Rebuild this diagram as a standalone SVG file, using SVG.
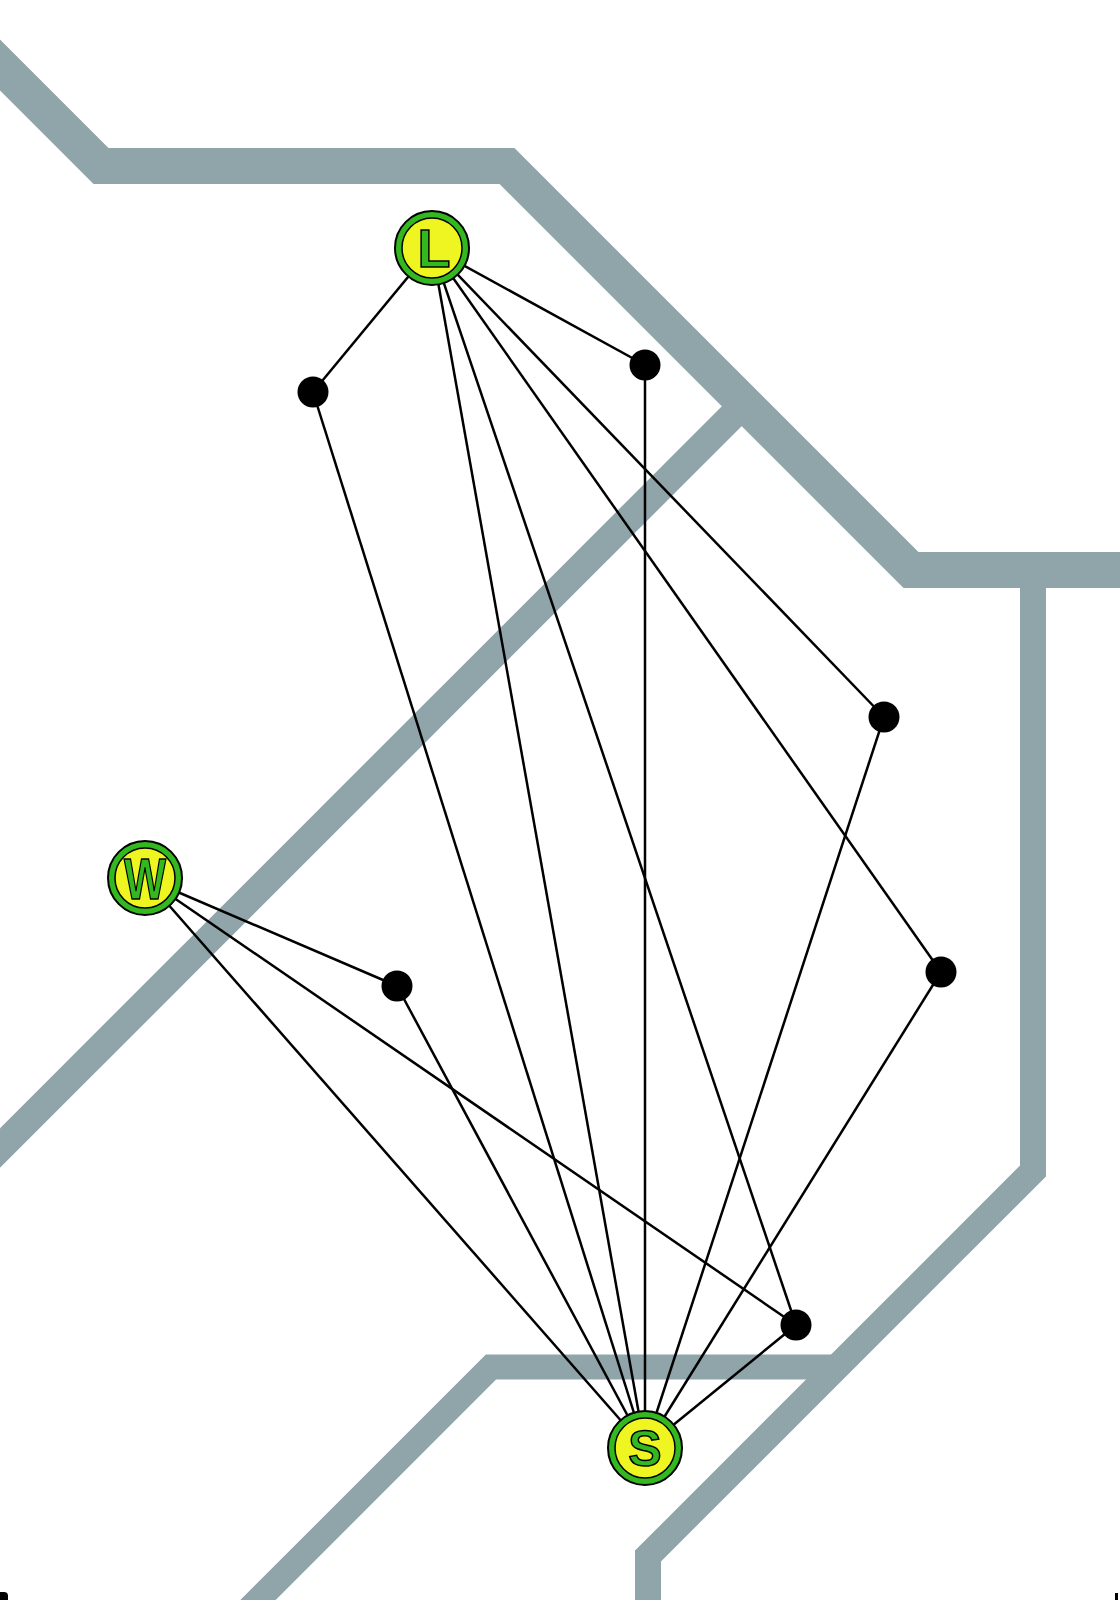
<svg xmlns="http://www.w3.org/2000/svg" width="1120" height="1600" viewBox="0 0 1120 1600">
<style>
.road{fill:none;stroke:#90a5aa;stroke-linejoin:miter;stroke-linecap:butt}
.edge{stroke:#000;stroke-width:2.5;fill:none}
.ring{fill:#33b81f;stroke:#000;stroke-width:2}
.core{fill:#eef520;stroke:#000;stroke-width:1.5}
.lbl{font-family:"Liberation Sans",Arial,sans-serif;font-weight:bold;fill:#33b81f;stroke:#000;stroke-width:1.5;text-anchor:middle}
.dot{fill:#000}
</style>
<rect width="1120" height="1600" fill="#fff"/>
<g id="roads">
<path class="road" stroke-width="36" d="M -30,35 L 101,166 L 507,166 L 911,570 L 1150,570"/>
<path class="road" stroke-width="28" d="M -30,1178 L 744,404"/>
<path class="road" stroke-width="26" d="M 1033,570 L 1033,1171 L 648,1556 L 648,1620"/>
<path class="road" stroke-width="25" d="M 837,1367 L 491,1367 L 228,1630"/>
</g>
<g id="connectors">
<line class="edge" x1="432" y1="248" x2="313" y2="392"/>
<line class="edge" x1="313" y1="392" x2="645" y2="1448"/>
<line class="edge" x1="432" y1="248" x2="645" y2="1448"/>
<line class="edge" x1="432" y1="248" x2="796" y2="1325"/>
<line class="edge" x1="432" y1="248" x2="645" y2="365"/>
<line class="edge" x1="645" y1="365" x2="645" y2="1448"/>
<line class="edge" x1="432" y1="248" x2="941" y2="972"/>
<line class="edge" x1="941" y1="972" x2="645" y2="1448"/>
<line class="edge" x1="432" y1="248" x2="884" y2="717"/>
<line class="edge" x1="884" y1="717" x2="645" y2="1448"/>
<line class="edge" x1="145" y1="878" x2="397" y2="986"/>
<line class="edge" x1="397" y1="986" x2="645" y2="1448"/>
<line class="edge" x1="145" y1="878" x2="645" y2="1448"/>
<line class="edge" x1="145" y1="878" x2="796" y2="1325"/>
<line class="edge" x1="796" y1="1325" x2="645" y2="1448"/>
</g>
<g id="dot1"><circle class="dot" cx="313" cy="392" r="15.5"/></g>
<g id="dot2"><circle class="dot" cx="645" cy="365" r="15.5"/></g>
<g id="dot3"><circle class="dot" cx="884" cy="717" r="15.5"/></g>
<g id="dot4"><circle class="dot" cx="941" cy="972" r="15.5"/></g>
<g id="dot5"><circle class="dot" cx="397" cy="986" r="15.5"/></g>
<g id="dot6"><circle class="dot" cx="796" cy="1325" r="15.5"/></g>
<g id="node-L">
<circle class="ring" cx="432" cy="248" r="37"/>
<circle class="core" cx="432" cy="248" r="30"/>
<text class="lbl" x="434" y="267" font-size="54">L</text>
</g>
<g id="node-W">
<circle class="ring" cx="145" cy="878" r="37"/>
<circle class="core" cx="145" cy="878" r="30"/>
<text class="lbl" x="145" y="899" font-size="58" textLength="42" lengthAdjust="spacingAndGlyphs">W</text>
</g>
<g id="node-S">
<circle class="ring" cx="645" cy="1448" r="37"/>
<circle class="core" cx="645" cy="1448" r="30"/>
<text class="lbl" x="645" y="1466" font-size="50">S</text>
</g>
<g id="marks">
<path d="M 0,1592 L 4,1592 Q 8,1592 8,1596 L 8,1600 L 0,1600 Z" fill="#000"/>
<rect x="1115" y="1593" width="3" height="7" fill="#000"/>
</g>
</svg>
